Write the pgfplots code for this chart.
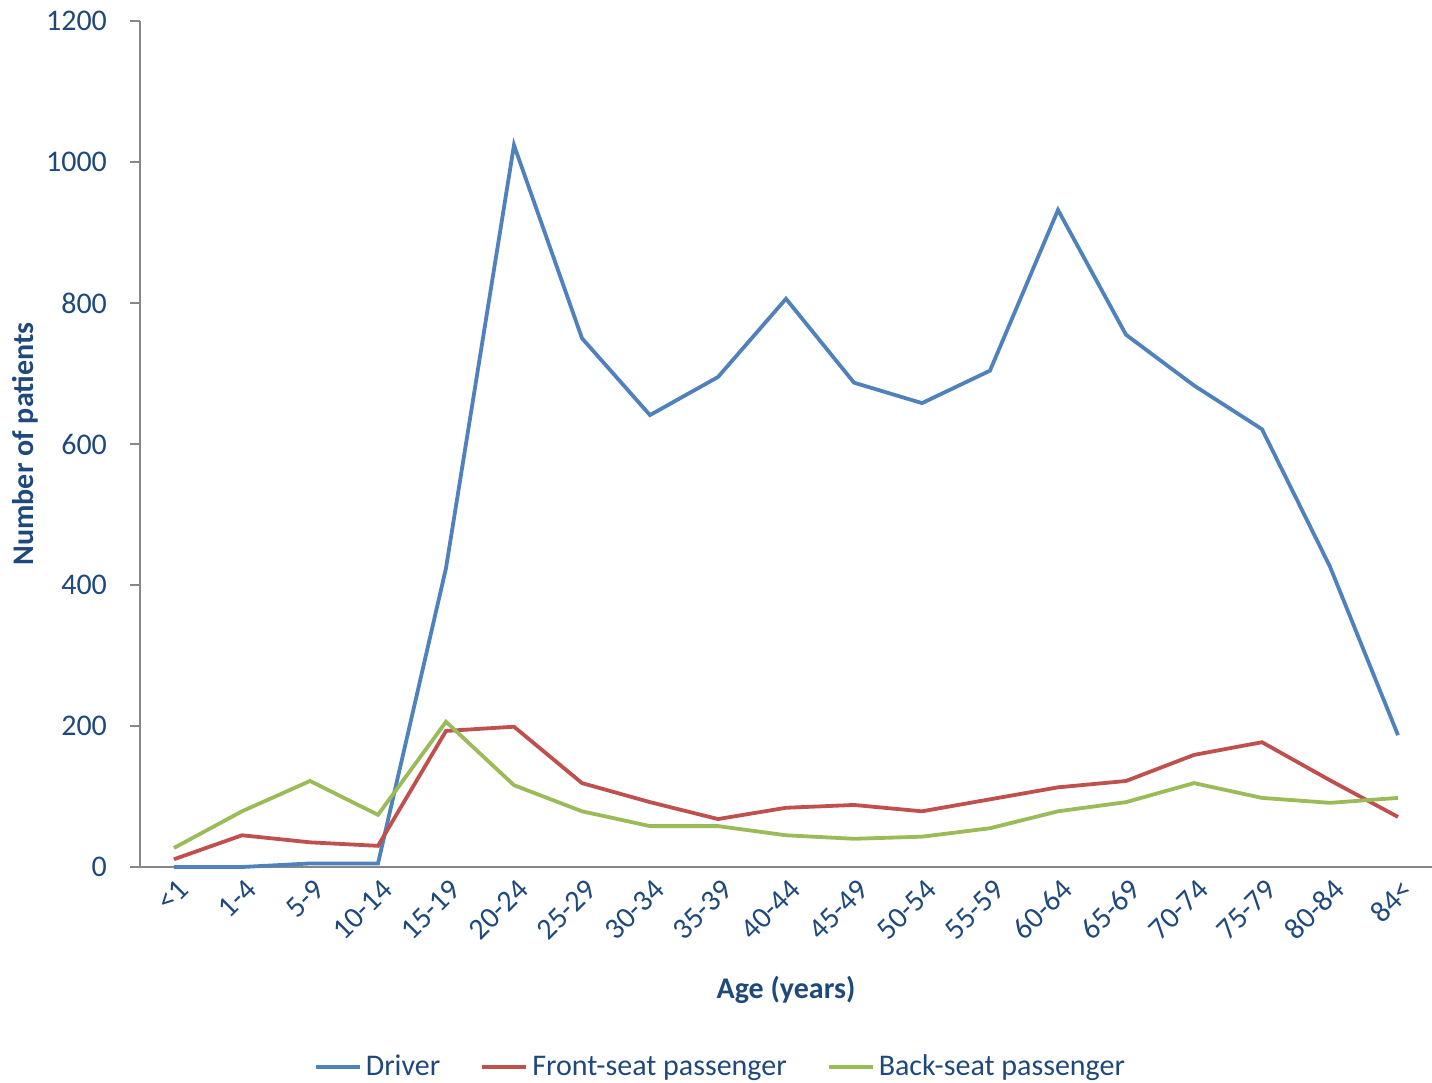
\documentclass[border=0pt]{standalone}
\usepackage{pgfplots}
\pgfplotsset{compat=1.18}
\usepackage{fontspec}
\setmainfont{Carlito}
\definecolor{cblue}{HTML}{4F81BD}
\definecolor{cred}{HTML}{C0504D}
\definecolor{cgreen}{HTML}{9BBB59}
\definecolor{ctext}{HTML}{1F497D}
\definecolor{caxis}{HTML}{888888}
\pgfplotstableread{
x driver front back
0 0 11 27
1 0 45 79
2 5 35 122
3 5 30 74
4 424 193 206
5 1024 199 116
6 750 119 79
7 641 92 58
8 695 68 58
9 806 84 45
10 687 88 40
11 658 79 43
12 704 96 55
13 932 113 79
14 755 122 92
15 683 159 119
16 621 177 98
17 426 123 91
18 187 71 98
}\datatable
\begin{document}
\begin{tikzpicture}
\useasboundingbox (-70pt,-108pt) rectangle (646pt,433.5pt);
\begin{axis}[
  scale only axis,
  width=646pt, height=423pt,
  xmin=-0.5, xmax=18.5,
  ymin=0, ymax=1200,
  ytick={0,200,...,1200},
  xtick={0,...,18},
  xticklabels={<1,1-4,5-9,10-14,15-19,20-24,25-29,30-34,35-39,40-44,45-49,50-54,55-59,60-64,65-69,70-74,75-79,80-84,84<},
  extra x ticks={-0.5,0.5,...,18.5},
  extra x tick labels={},
  extra x tick style={major tick length=5pt, tick style={caxis, line width=0.9pt}},
  major x tick style={draw=none},
  axis x line*=bottom, axis y line*=left,
  axis line style={caxis, line width=0.9pt},
  tick align=outside,
  major tick length=5pt,
  ytick style={caxis, line width=0.9pt},
  tick label style={font=\fontsize{15}{17}\selectfont, color=ctext},
  /pgf/number format/assume math mode=true,
  /pgf/number format/1000 sep={},
  yticklabel style={xshift=-8pt},
  xticklabel style={rotate=45, anchor=east, yshift=-6pt, xshift=4pt},
  xlabel={\textbf{Age (years)}},
  ylabel={\textbf{Number of patients}},
  every axis x label/.style={at={(axis description cs:0.5,-0.1454)}, anchor=center,
    font=\fontsize{15}{17}\selectfont, color=ctext},
  every axis y label/.style={at={(axis description cs:-0.089,0.5)}, rotate=90, anchor=center,
    font=\fontsize{15}{17}\selectfont, color=ctext},
  legend style={at={(axis description cs:0.45,-0.2364)}, anchor=center, draw=none, fill=none,
    legend columns=3, font=\fontsize{15}{17}\selectfont, text=ctext,
    /tikz/every even column/.append style={column sep=18pt}},
  legend image code/.code={\draw[#1, line width=2pt] (0pt,0pt) -- (22pt,0pt);},
  legend cell align=left,
  clip=false,
]
\addplot[cblue, line width=1.9pt] table[x=x, y=driver] {\datatable};
\addlegendentry{Driver}
\addplot[cred, line width=1.9pt] table[x=x, y=front] {\datatable};
\addlegendentry{Front-seat passenger}
\addplot[cgreen, line width=1.9pt] table[x=x, y=back] {\datatable};
\addlegendentry{Back-seat passenger}
\end{axis}
\end{tikzpicture}
\end{document}
